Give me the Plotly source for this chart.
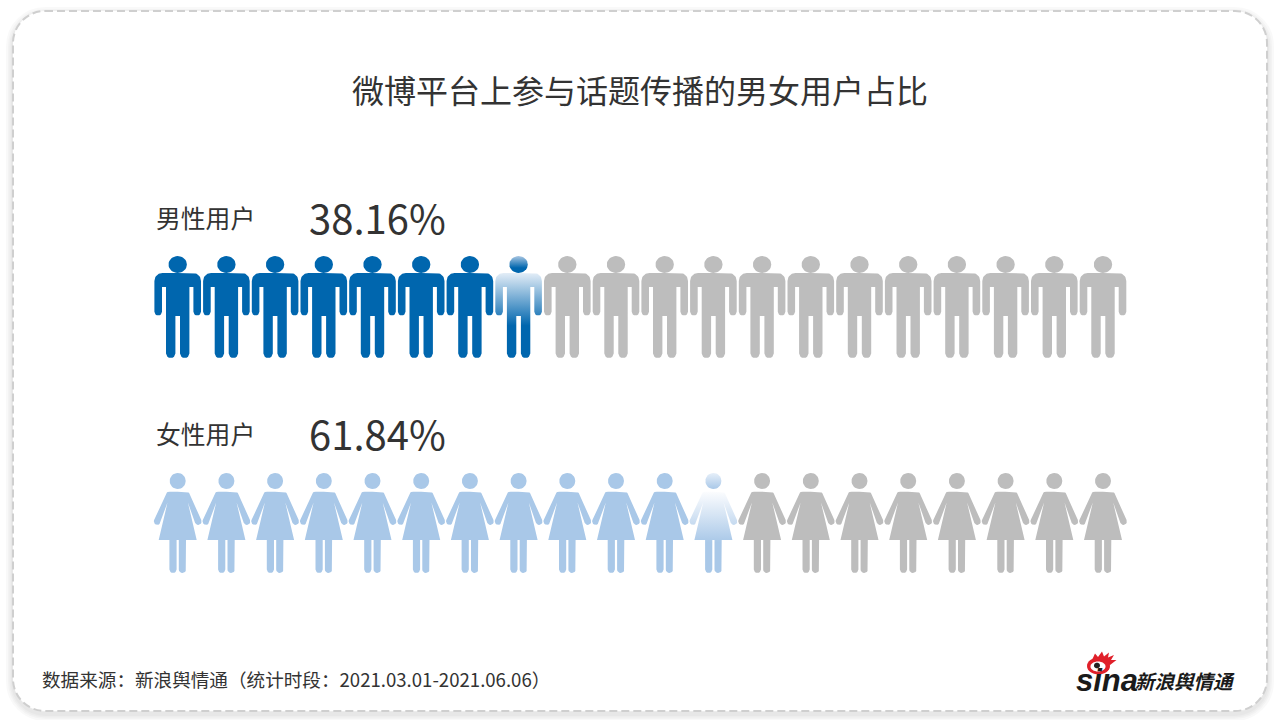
import math
import plotly.graph_objects as go

# ---- data ----
title = "微博平台上参与话题传播的男女用户占比"
categories = ["男性用户", "女性用户"]
shares = [38.16, 61.84]
icons_per_row = 20
full_icons = [7, 11]          # solid icons, then one fading icon, then grey
source = "数据来源：新浪舆情通（统计时段：2021.03.01-2021.06.06）"
logo_word = "sina"
logo_name = "新浪舆情通"

# ---- style ----
W, H = 1280, 720
FONT = "Noto Sans CJK SC"
TEXT = "#333333"
MALE, FEMALE, GREY = "#0066ae", "#a9c8e8", "#bdbdbd"
X0, STEP = 177.7, 48.7       # pixel position of icon 0, pixels between icons


def arc(cx, cy, rx, ry, a0, a1, n=10):
    return [(cx + rx * math.cos(math.radians(a0 + (a1 - a0) * k / n)),
             cy + ry * math.sin(math.radians(a0 + (a1 - a0) * k / n))) for k in range(n + 1)]


def mirror(half):
    return half + [(-x, y) for x, y in reversed(half)]


MALE_HEAD = arc(0, 264.5, 9.2, 8.5, 0, 360, 32)
MALE_BODY = mirror(
    [(0, 273)] + arc(15.3, 281, 8, 8, -90, 0)
    + arc(19.5, 311.8, 3.8, 3.8, 0, 180, 8)
    + [(15.7, 287), (11.7, 287)]
    + arc(7, 353.5, 4.7, 4.7, 0, 180, 8)
    + [(2.3, 316), (0, 316)]
)
FEMALE_HEAD = arc(0, 481, 8, 8, 0, 360, 32)
FEMALE_BODY = mirror(
    [(0, 491.7), (8, 491.7)] + arc(8.5, 494.5, 3.4, 2.8, -80, -15, 4)
    + arc(20.5, 521.5, 3.4, 3.4, -25, 155, 8)
    + [(10.2, 502.5), (19, 540), (8.3, 540)]
    + arc(4.7, 569.5, 3.6, 3.6, 0, 180, 8)
    + [(1.1, 540), (0, 540)]
)


def outline(indices, polys):
    xs, ys = [], []
    for i in indices:
        for poly in polys:
            xs += [i + dx / STEP for dx, _ in poly] + [None]
            ys += [y for _, y in poly] + [None]
    return xs, ys


def solid(indices, polys, color):
    xs, ys = outline(indices, polys)
    return go.Scatter(x=xs, y=ys, mode="lines", line=dict(width=0), fill="toself",
                      fillcolor=color, hoverinfo="skip", showlegend=False)


def faded(index, poly, scale, start, stop):
    xs, ys = outline([index], [poly])
    return go.Scatter(x=xs, y=ys, mode="lines", line=dict(width=0), fill="toself",
                      fillgradient=dict(type="vertical", colorscale=scale, start=start, stop=stop),
                      hoverinfo="skip", showlegend=False)


fig = go.Figure()
rows = [
    (MALE, MALE_HEAD, MALE_BODY,
     [[0, "#a9c6e2"], [0.7, MALE], [1, MALE]], 256, 273,
     [[0, "#e3edf7"], [0.62, MALE], [1, MALE]], 273, 358),
    (FEMALE, FEMALE_HEAD, FEMALE_BODY,
     [[0, "#e6eff9"], [1, FEMALE]], 473, 489,
     [[0, "#fbfcfe"], [0.62, FEMALE], [1, FEMALE]], 492, 573),
]
for full, (color, head, body, hs, h0, h1, bs, b0, b1) in zip(full_icons, rows):
    fig.add_trace(solid(range(full), [head, body], color))
    fig.add_trace(faded(full, head, hs, h0, h1))
    fig.add_trace(faded(full, body, bs, b0, b1))
    fig.add_trace(solid(range(full + 1, icons_per_row), [head, body], GREY))


def px(x):
    return x / W


def py(y):
    return 1 - y / H


def round_rect(x0, y0, x1, y1, r):
    k = r * 0.45
    pts = [
        f"M{px(x0 + r)},{py(y0)}", f"L{px(x1 - r)},{py(y0)}",
        f"C{px(x1 - k)},{py(y0)} {px(x1)},{py(y0 + k)} {px(x1)},{py(y0 + r)}",
        f"L{px(x1)},{py(y1 - r)}",
        f"C{px(x1)},{py(y1 - k)} {px(x1 - k)},{py(y1)} {px(x1 - r)},{py(y1)}",
        f"L{px(x0 + r)},{py(y1)}",
        f"C{px(x0 + k)},{py(y1)} {px(x0)},{py(y1 - k)} {px(x0)},{py(y1 - r)}",
        f"L{px(x0)},{py(y0 + r)}",
        f"C{px(x0)},{py(y0 + k)} {px(x0 + k)},{py(y0)} {px(x0 + r)},{py(y0)}Z",
    ]
    return " ".join(pts)


def poly_path(points):
    return "M" + " L".join(f"{px(x)},{py(y)}" for x, y in points) + "Z"


shapes = []
for width in (14, 10, 7, 4):
    shapes.append(dict(type="path", xref="paper", yref="paper", layer="below",
                       path=round_rect(13, 14, 1267, 714, 32),
                       line=dict(color="rgba(0,0,0,0.025)", width=width)))
shapes.append(dict(type="path", xref="paper", yref="paper", layer="below",
                   path=round_rect(13, 11, 1267, 711, 32), fillcolor="white",
                   line=dict(color="#cfcfcf", width=2, dash="8px,4px")))

# logo: flames and eye
RED = "#e0202a"
flames = [(1092, 660), (1095, 653.5), (1098, 657), (1102, 651.5), (1104, 656.5), (1109, 652.5),
          (1108, 657.5), (1114, 655), (1111, 660), (1116.5, 660), (1110, 665)]
shapes.append(dict(type="path", xref="paper", yref="paper", path=poly_path(flames),
                   fillcolor=RED, line=dict(width=0)))
shapes.append(dict(type="path", xref="paper", yref="paper",
                   path=poly_path(arc(1098.5, 666, 11.5, 8.5, 0, 360, 32)),
                   fillcolor=RED, line=dict(width=0)))
shapes.append(dict(type="path", xref="paper", yref="paper",
                   path=poly_path(arc(1098, 666.5, 7.5, 5, 0, 360, 32)),
                   fillcolor="white", line=dict(width=0)))
shapes.append(dict(type="path", xref="paper", yref="paper",
                   path=poly_path(arc(1097, 665.5, 3, 2.8, 0, 360, 20)),
                   fillcolor="#222222", line=dict(width=0)))


def label(x, y, text, size, anchor="left", color=TEXT, family=FONT):
    return dict(x=px(x), y=py(y), xref="paper", yref="paper", text=text, showarrow=False,
                xanchor=anchor, yanchor="middle", font=dict(family=family, size=size, color=color))


annotations = [
    label(640, 89, title, 32, "center"),
    label(153.5, 217, categories[0], 24.8),
    label(307, 217, f"{shares[0]:.2f}%", 40),
    label(153.5, 433, categories[1], 24.8),
    label(307, 433, f"{shares[1]:.2f}%", 40),
    label(40, 678, source, 18.6),
    label(1074, 680, f"<b><i>{logo_word}</i></b>", 31, color="#1a1a1a", family="Liberation Sans"),
    label(1133, 680, f"<b><i>{logo_name}</i></b>", 19.5, color="#1a1a1a"),
]

fig.update_layout(
    width=W, height=H, margin=dict(l=0, r=0, t=0, b=0),
    paper_bgcolor="white", plot_bgcolor="rgba(0,0,0,0)",
    showlegend=False, shapes=shapes, annotations=annotations,
    xaxis=dict(range=[-X0 / STEP, (W - X0) / STEP], visible=False, fixedrange=True),
    yaxis=dict(range=[H, 0], visible=False, fixedrange=True),
)
fig.write_html("out.html", config=dict(displayModeBar=False),
               post_script="document.documentElement.style.margin='0';document.body.style.margin='0';document.body.style.overflow='hidden';")
